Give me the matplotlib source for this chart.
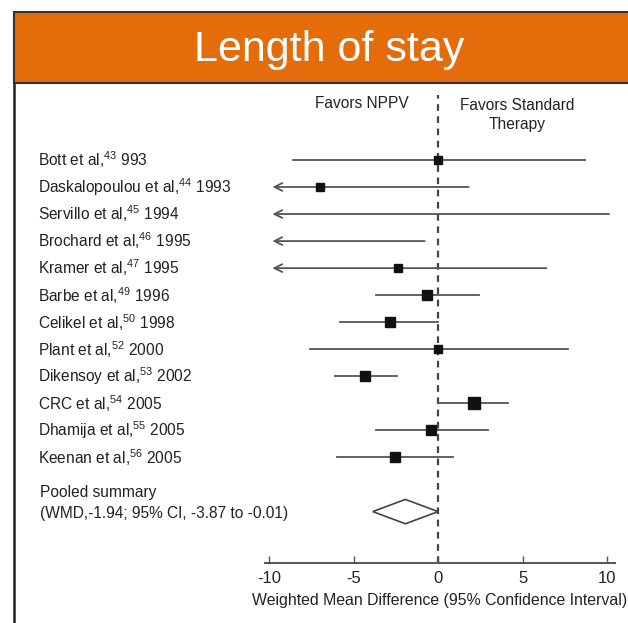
import numpy as np
import matplotlib
matplotlib.use('Agg')
import matplotlib.pyplot as plt
from matplotlib.patches import Rectangle, Polygon
from matplotlib.lines import Line2D
from matplotlib.transforms import blended_transform_factory

plt.rcParams['font.family'] = ['Liberation Sans', 'DejaVu Sans']
plt.rcParams['mathtext.fontset'] = 'custom'
plt.rcParams['mathtext.rm'] = 'Liberation Sans'

# study data, None = off scale
studies = ['Bott et al,$^{43}$ 993', 'Daskalopoulou et al,$^{44}$ 1993',
           'Servillo et al,$^{45}$ 1994', 'Brochard et al,$^{46}$ 1995',
           'Kramer et al,$^{47}$ 1995', 'Barbe et al,$^{49}$ 1996',
           'Celikel et al,$^{50}$ 1998', 'Plant et al,$^{52}$ 2000',
           'Dikensoy et al,$^{53}$ 2002', 'CRC et al,$^{54}$ 2005',
           'Dhamija et al,$^{55}$ 2005', 'Keenan et al,$^{56}$ 2005']
wmd = [0.0, -7.0, None, None, -2.4, -0.65, -2.85, 0.0, -4.3, 2.1, -0.4, -2.55]
ci_low = [-8.6, None, None, None, None, -3.7, -5.8, -7.6, -6.1, 0.0, -3.7, -6.0]
ci_high = [8.7, 1.8, 10.1, -0.8, 6.4, 2.4, 0.0, 7.7, -2.45, 4.15, 2.95, 0.9]
weights = [5, 5, 0, 0, 6, 10, 8, 6, 10, 12, 10, 9]

pooled = -1.94
pooled_low = -3.87
pooled_high = -0.01

W, H = 628, 623
fig = plt.figure(figsize=(W / 100, H / 100), dpi=100)


def fx(px):
    return px / W


def fy(py):
    return 1 - py / H


# orange banner and white box edge
fig.patches.append(Rectangle((fx(14), fy(83)), fx(700), 71 / H,
                             facecolor='#E46C0A', edgecolor='#333333',
                             lw=1.5, transform=fig.transFigure))
fig.lines.append(Line2D([fx(14), fx(14)], [fy(84), 0], color='#222222',
                        lw=1.8, transform=fig.transFigure))
fig.text(fx(329), fy(50), 'Length of stay', color='white', fontsize=31,
         ha='center', va='center')

# forest plot axes: x=-10 at px 269, x=10 at px 606
ax = fig.add_axes([fx(265), fy(563), fx(615) - fx(265), (563 - 95) / H])
ax.set_xlim(-10.24, 10.45)
ax.set_ylim(14.9, -2.4)
for s in ['top', 'right', 'left']:
    ax.spines[s].set_visible(False)
ax.spines['bottom'].set_color('#555555')
ax.spines['bottom'].set_linewidth(1.4)
ax.set_yticks([])
ax.set_xticks([-10, -5, 0, 5, 10])
ax.set_xticklabels(['-10', '-5', '0', '5', '10'])
ax.tick_params(axis='x', direction='in', length=5, width=1, color='#555555',
               labelsize=12, labelcolor='#222222', pad=6)
ax.set_xlabel('Weighted Mean Difference (95% Confidence Interval)',
              fontsize=11.4, color='#222222', labelpad=5)
ax.patch.set_alpha(0)

ax.axvline(0, color='#444444', lw=1.6, ls=(0, (3, 2.5)), zorder=1)

line_col = '#555555'
rows = np.arange(len(studies))
for i in rows:
    hi = ci_high[i]
    lo = ci_low[i]
    if lo is None:
        ax.annotate('', xy=(-9.8, i), xytext=(hi, i),
                    arrowprops=dict(arrowstyle='->', color=line_col, lw=1.3,
                                    mutation_scale=14, shrinkA=0, shrinkB=0))
    else:
        ax.plot([lo, hi], [i, i], color=line_col, lw=1.3, zorder=2)
    if wmd[i] is not None:
        ax.plot(wmd[i], i, marker='s', color='#111111',
                markersize=4 + weights[i] * 0.35, zorder=3)

# pooled diamond
py = len(studies) + 1
ax.add_patch(Polygon([[pooled_low, py], [pooled, py - 0.45],
                      [pooled_high, py], [pooled, py + 0.45]],
                     closed=True, facecolor='white', edgecolor='#444444',
                     lw=1.2, zorder=3))

# labels on the left
tr = blended_transform_factory(fig.transFigure, ax.transData)
for i, name in enumerate(studies):
    ax.text(fx(38), i, name, transform=tr, fontsize=11.2, color='#222222',
            ha='left', va='center')
ax.text(fx(40), py - 0.72, 'Pooled summary', transform=tr, fontsize=11.2,
        color='#222222', ha='left', va='center')
ax.text(fx(40), py + 0.06,
        '(WMD,%.2f; 95%% CI, %.2f to %.2f)' % (pooled, pooled_low, pooled_high),
        transform=tr, fontsize=11.2, color='#222222', ha='left', va='center')

# header labels
fig.text(fx(362), fy(104), 'Favors NPPV', fontsize=11.2, color='#222222',
         ha='center', va='center')
fig.text(fx(517), fy(115), 'Favors Standard\nTherapy', fontsize=11.2,
         color='#222222', ha='center', va='center', linespacing=1.25)

fig.savefig('out.png', dpi=100)
